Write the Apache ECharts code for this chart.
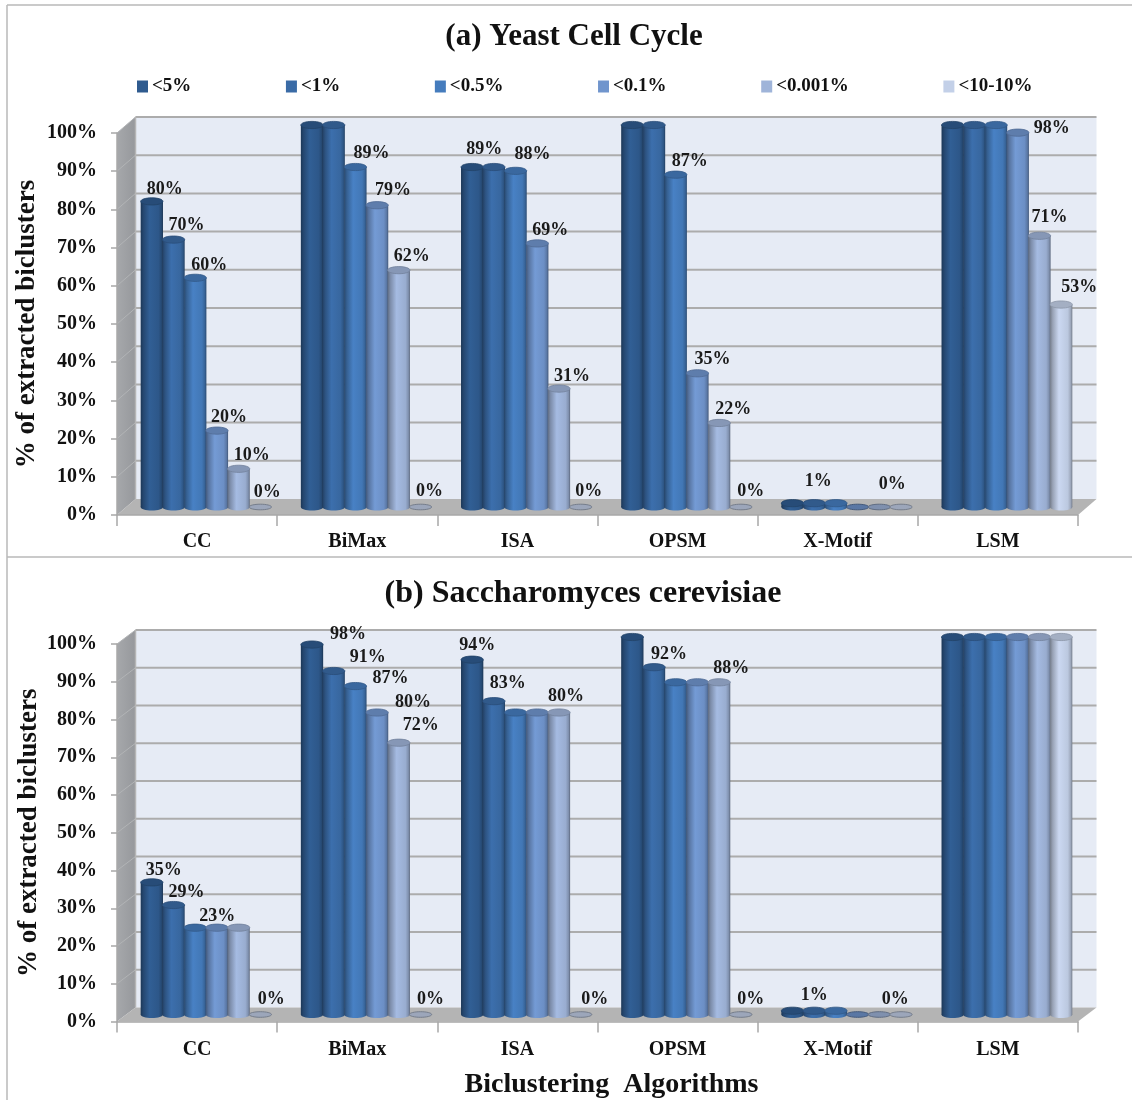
<!DOCTYPE html>
<html>
<head>
<meta charset="utf-8">
<script src="https://cdn.jsdelivr.net/npm/echarts@6/dist/echarts.min.js"></script>
<style>
html,body{margin:0;padding:0;background:#fff}
#main{width:1132px;height:1100px}
</style>
</head>
<body>
<div id="main"></div>
<script>
var algorithms = ['CC', 'BiMax', 'ISA', 'OPSM', 'X-Motif', 'LSM'];
var levels = ['<5%', '<1%', '<0.5%', '<0.1%', '<0.001%', '<10-10%'];
var levelColors = ['#2f5b8f', '#3a6ba6', '#457cbd', '#7095cd', '#9fb4d9', '#c3d0e8'];
var yTicks = [0, 10, 20, 30, 40, 50, 60, 70, 80, 90, 100];

// one row per level, one column per algorithm
var yeast = [
    [80, 100, 89, 100, 1, 100],
    [70, 100, 89, 100, 1, 100],
    [60, 89, 88, 87, 1, 100],
    [20, 79, 69, 35, 0, 98],
    [10, 62, 31, 22, 0, 71],
    [0, 0, 0, 0, 0, 53]
];
var cerevisiae = [
    [35, 98, 94, 100, 1, 100],
    [29, 91, 83, 92, 1, 100],
    [23, 87, 80, 88, 1, 100],
    [23, 80, 80, 88, 0, 100],
    [23, 72, 80, 88, 0, 100],
    [0, 0, 0, 0, 0, 100]
];

// where the value labels sit, "algorithm-level": [dx, dy] from the top of the bar
var yeastLabels = {
    '0-0': [13, -12], '0-1': [13, -14], '0-2': [14, -12], '0-3': [12, -13], '0-4': [13, -13], '0-5': [7, -15],
    '1-2': [16, -14], '1-3': [16, -15], '1-4': [13, -14], '1-5': [9, -16],
    '2-0': [12, -18], '2-2': [17, -16], '2-3': [13, -13], '2-4': [13, -12], '2-5': [8, -16],
    '3-2': [14, -13], '3-3': [15, -14], '3-4': [14, -14], '3-5': [10, -16],
    '4-1': [4, -22], '4-4': [13, -23],
    '5-3': [34, -4], '5-4': [10, -18], '5-5': [18, -17]
};
var cerevisiaeLabels = {
    '0-0': [12, -12], '0-1': [13, -13], '0-2': [22, -11], '0-5': [11, -15],
    '1-0': [36, -10], '1-1': [34, -14], '1-2': [35, -8], '1-3': [36, -10], '1-4': [22, -17], '1-5': [10, -15],
    '2-0': [5, -14], '2-1': [14, -18], '2-4': [7, -16], '2-5': [14, -15],
    '3-1': [15, -13], '3-4': [12, -14], '3-5': [10, -15],
    '4-1': [0, -15], '4-4': [16, -15]
};

var serif = '"Liberation Serif", serif';
var barW = 21.7;

// multiply a #rrggbb colour, f<1 is darker
function shade(hex, f) {
    var out = [1, 3, 5].map(function (i) {
        return Math.min(255, Math.round(parseInt(hex.substr(i, 2), 16) * f));
    });
    return 'rgb(' + out.join(',') + ')';
}

// back wall, side wall and floor of the 3d box
function frameSeries(idx, depthY) {
    return {
        type: 'custom', name: 'frame', xAxisIndex: idx, yAxisIndex: idx, z: 1, silent: true,
        data: [[0, 0]],
        renderItem: function (params, api) {
            var cs = params.coordSys, dx = 18.5, l = cs.x, r = cs.x + cs.width, t = cs.y, b = cs.y + cs.height;
            var kids = [
                {type: 'rect', shape: {x: l + dx, y: t - depthY, width: r - l, height: b - t}, style: {fill: '#e6ebf5'}},
                {type: 'polygon', shape: {points: [[l, t], [l + dx, t - depthY], [l + dx, b - depthY], [l, b]]},
                    style: {fill: {type: 'linear', x: 0, y: 0, x2: 1, y2: 0, colorStops: [{offset: 0, color: '#a6a8ab'}, {offset: 1, color: '#96989c'}]}}},
                {type: 'polygon', shape: {points: [[l, b], [l + dx, b - depthY], [r + dx, b - depthY], [r, b]]}, style: {fill: '#b4b4b4'}}
            ];
            yTicks.forEach(function (v) {
                var y = api.coord([0, v])[1];
                if (v > 0) {
                    kids.push({type: 'line', shape: {x1: l + dx, y1: y - depthY, x2: r + dx, y2: y - depthY}, style: {stroke: '#acacac', lineWidth: 2}});
                    kids.push({type: 'line', shape: {x1: l, y1: y, x2: l + dx, y2: y - depthY}, style: {stroke: '#b2b4b6', lineWidth: 1}});
                }
            });
            kids.push({type: 'line', shape: {x1: l + dx, y1: t - depthY, x2: l + dx, y2: b - depthY}, style: {stroke: '#b5b5b5', lineWidth: 1.5}});
            return {type: 'group', children: kids};
        }
    };
}

// one cylinder per value, the value label comes along if it has a spot
function cylinderSeries(idx, rows, spots, s, depthY) {
    var base = levelColors[s];
    var fill = {type: 'linear', x: 0, y: 0, x2: 1, y2: 0, colorStops: [
        {offset: 0, color: shade(base, 0.6)}, {offset: 0.12, color: shade(base, 0.78)},
        {offset: 0.4, color: shade(base, 1.04)}, {offset: 0.8, color: shade(base, 0.96)},
        {offset: 0.93, color: shade(base, 0.8)}, {offset: 1, color: shade(base, 0.58)}
    ]};
    return {
        type: 'custom', name: levels[s], xAxisIndex: idx, yAxisIndex: idx, z: 3, silent: true,
        itemStyle: {color: base},
        encode: {x: 0, y: 1},
        data: rows[s].map(function (v, c) { return [c, v]; }),
        renderItem: function (params, api) {
            var c = api.value(0), v = api.value(1);
            var top = api.coord([c, v]), zero = api.coord([c, 0]);
            var cx = top[0] + 9 + (s - 2.5) * barW, topY = top[1] - depthY / 2, baseY = zero[1] - depthY / 2;
            var rx = barW / 2 + 0.3, ry = 3.6;
            var kids = [];
            if (v > 0) {
                kids.push({type: 'ellipse', z2: s, shape: {cx: cx, cy: baseY, rx: rx, ry: ry}, style: {fill: fill}});
                kids.push({type: 'rect', z2: s, shape: {x: cx - rx, y: topY, width: rx * 2, height: baseY - topY}, style: {fill: fill}});
                kids.push({type: 'ellipse', z2: s, shape: {cx: cx, cy: topY, rx: rx, ry: ry},
                    style: {fill: shade(base, 0.84), stroke: shade(base, 0.72), lineWidth: 0.8}});
            } else {
                // empty value, only a flat disc on the floor
                kids.push({type: 'ellipse', z2: s, shape: {cx: cx, cy: topY, rx: rx, ry: 2.8},
                    style: {fill: shade(base, 0.8), stroke: shade(base, 0.6), lineWidth: 1}});
            }
            var spot = spots[c + '-' + s];
            if (spot) {
                kids.push({type: 'text', z2: 20, style: {
                    text: v + '%', x: cx + spot[0], y: topY + spot[1], align: 'center', verticalAlign: 'middle',
                    fontFamily: serif, fontWeight: 'bold', fontSize: 18, fill: '#1a1a1a'
                }});
            }
            return {type: 'group', children: kids};
        }
    };
}

function xAxisFor(idx, name, margin) {
    return {
        type: 'category', gridIndex: idx, data: algorithms, z: 5,
        axisLine: {lineStyle: {color: '#a8a8a8', width: 1.5}},
        axisTick: {show: true, length: 11, lineStyle: {color: '#a8a8a8', width: 1.5}},
        axisLabel: {color: '#111', fontFamily: serif, fontWeight: 'bold', fontSize: 20, margin: margin},
        name: name, nameLocation: 'middle', nameGap: 49,
        nameTextStyle: {color: '#111', fontFamily: serif, fontWeight: 'bold', fontSize: 28, padding: [0, 0, 0, 28]}
    };
}

function yAxisFor(idx, gap) {
    return {
        type: 'value', gridIndex: idx, min: 0, max: 100, interval: 10, z: 5,
        splitLine: {show: false},
        axisLine: {show: true, lineStyle: {color: '#a8a8a8', width: 1.5}},
        axisTick: {show: true, length: 6, lineStyle: {color: '#a8a8a8', width: 1.5}},
        axisLabel: {color: '#111', fontFamily: serif, fontWeight: 'bold', fontSize: 20, margin: 20, formatter: '{value}%'},
        name: '% of extracted biclusters', nameLocation: 'middle', nameGap: gap, nameRotate: 90, nameMoveOverlap: false,
        nameTextStyle: {color: '#111', fontFamily: serif, fontWeight: 'bold', fontSize: 27}
    };
}

var series = [frameSeries(0, 16), frameSeries(1, 14)];
levels.forEach(function (n, s) { series.push(cylinderSeries(0, yeast, yeastLabels, s, 16)); });
levels.forEach(function (n, s) { series.push(cylinderSeries(1, cerevisiae, cerevisiaeLabels, s, 14)); });

var line = {stroke: '#b8b8b8', lineWidth: 1.5};
var chart = echarts.init(document.getElementById('main'), null, {renderer: 'canvas'});
chart.setOption({
    animation: false,
    backgroundColor: '#ffffff',
    title: [
        {text: '(a) Yeast Cell Cycle', left: 569, top: 16, textAlign: 'center',
            textStyle: {color: '#111', fontFamily: serif, fontWeight: 'bold', fontSize: 31}},
        {text: '(b) Saccharomyces cerevisiae', left: 578, top: 573, textAlign: 'center',
            textStyle: {color: '#111', fontFamily: serif, fontWeight: 'bold', fontSize: 32}}
    ],
    legend: {
        data: levels, left: 132, top: 72, icon: 'rect', itemWidth: 11, itemHeight: 12, itemGap: 94.6,
        selectedMode: false,
        textStyle: {color: '#111', fontFamily: serif, fontWeight: 'bold', fontSize: 19, padding: [0, 0, 0, -1]}
    },
    grid: [
        {left: 117, width: 961, top: 133, height: 382, outerBoundsMode: 'none'},
        {left: 117, width: 961, top: 644, height: 377.5, outerBoundsMode: 'none'}
    ],
    xAxis: [xAxisFor(0, '', 17), xAxisFor(1, 'Biclustering  Algorithms', 18)],
    yAxis: [yAxisFor(0, 76), yAxisFor(1, 74)],
    series: series,
    graphic: [
        {type: 'line', silent: true, shape: {x1: 7, y1: 5, x2: 1132, y2: 5}, style: line},
        {type: 'line', silent: true, shape: {x1: 7, y1: 5, x2: 7, y2: 1100}, style: line},
        {type: 'line', silent: true, shape: {x1: 7, y1: 557, x2: 1132, y2: 557}, style: line}
    ]
});
</script>
</body>
</html>
